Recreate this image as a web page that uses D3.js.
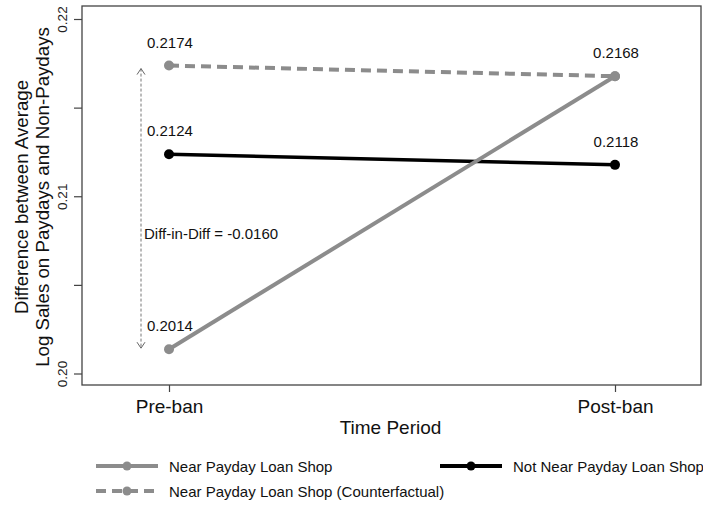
<!DOCTYPE html>
<html><head><meta charset="utf-8">
<script src="https://cdn.jsdelivr.net/npm/d3@7"></script>
<style>body{margin:0;background:#fff}svg{display:block;font-family:"Liberation Sans",Arial,sans-serif}</style>
</head><body><svg id="c" width="703" height="506"></svg>
<script>
const periods = ["Pre-ban", "Post-ban"];
const nearValues = [0.2014, 0.2168];
const notNearValues = [0.2124, 0.2118];
const counterfactualValues = [0.2174, 0.2168];
const yTicks = [0.20, 0.205, 0.21, 0.215, 0.22];
const yTickLabels = ["0.20", "", "0.21", "", "0.22"];
const diffLabel = "Diff-in-Diff = -0.0160";
const legendLabels = ["Near Payday Loan Shop", "Not Near Payday Loan Shop", "Near Payday Loan Shop (Counterfactual)"];

const svg = d3.select("#c");
const L = 82, R = 701, T = 6, B = 385;
const x = d3.scalePoint().domain(periods).range([169, 615]);
const y = d3.scaleLinear().domain([0.20, 0.22]).range([374, 19.5]);
const gray = "#8c8c8c";

// frame
svg.append("rect").attr("x", L).attr("y", T).attr("width", R - L).attr("height", B - T)
  .attr("fill", "none").attr("stroke", "#444").attr("stroke-width", 1.3);

// y axis
const ya = svg.append("g").attr("transform", `translate(${L},0)`)
  .call(d3.axisLeft(y).tickValues(yTicks).tickSize(8).tickFormat((d, i) => yTickLabels[i]));
ya.select(".domain").remove();
ya.selectAll(".tick").attr("transform", "translate(0,0)");
ya.selectAll(".tick line").attr("stroke", "#444").attr("stroke-width", 1.2)
  .attr("y1", d => y(d)).attr("y2", d => y(d));
ya.selectAll("text").attr("font-size", 13.5).attr("fill", "#222")
  .attr("transform", d => `translate(-15,${y(d)}) rotate(-90)`)
  .attr("x", 0).attr("y", 0).attr("dy", "0").attr("text-anchor", "middle");

// x axis
const xa = svg.append("g").attr("transform", `translate(0,${B})`)
  .call(d3.axisBottom(x).tickSize(7));
xa.select(".domain").remove();
xa.selectAll("line").attr("stroke", "#444").attr("stroke-width", 1.2);
xa.selectAll("text").attr("font-size", 19).attr("fill", "#111")
  .attr("font-family", "Liberation Sans, Arial, sans-serif").attr("dy", 0).attr("y", 28);

// titles
svg.append("text").attr("x", (L + R) / 2 - 1).attr("y", 434).attr("text-anchor", "middle")
  .attr("font-size", 19).attr("fill", "#111").text("Time Period");
const yt = svg.append("text").attr("transform", "translate(0,197) rotate(-90)")
  .attr("text-anchor", "middle").attr("font-size", 18.7).attr("fill", "#111");
yt.append("tspan").attr("x", 0).attr("y", 28).text("Difference between Average");
yt.append("tspan").attr("x", 0).attr("y", 49).text("Log Sales on Paydays and Non-Paydays");

// diff-in-diff arrow
const ax = 141;
const ay1 = y(counterfactualValues[0]) + 3, ay2 = y(nearValues[0]) - 1;
svg.append("line").attr("x1", ax).attr("x2", ax).attr("y1", ay1).attr("y2", ay2)
  .attr("stroke", "#777").attr("stroke-width", 1).attr("stroke-dasharray", "3,2");
svg.append("path").attr("d", `M${ax - 4},${ay1 + 6}L${ax},${ay1}L${ax + 4},${ay1 + 6}`)
  .attr("fill", "none").attr("stroke", "#666").attr("stroke-width", 1);
svg.append("path").attr("d", `M${ax - 4},${ay2 - 6}L${ax},${ay2}L${ax + 4},${ay2 - 6}`)
  .attr("fill", "none").attr("stroke", "#666").attr("stroke-width", 1);
svg.append("text").attr("x", ax + 3).attr("y", (ay1 + ay2) / 2 + 31).attr("font-size", 15)
  .attr("fill", "#111").text(diffLabel);

// series
const series = [
  {vals: counterfactualValues, color: gray, w: 4, dash: "10,6"},
  {vals: notNearValues, color: "#000", w: 3.5, dash: null},
  {vals: nearValues, color: gray, w: 4, dash: null}
];
const line = d3.line().x((d, i) => x(periods[i])).y(d => y(d));
series.forEach(s => {
  svg.append("path").datum(s.vals).attr("d", line).attr("fill", "none")
    .attr("stroke", s.color).attr("stroke-width", s.w).attr("stroke-dasharray", s.dash);
  svg.selectAll(null).data(s.vals).enter().append("circle")
    .attr("cx", (d, i) => x(periods[i])).attr("cy", d => y(d)).attr("r", 5).attr("fill", s.color);
});

// value labels
const labels = [
  {v: counterfactualValues[0], i: 0}, {v: notNearValues[0], i: 0}, {v: nearValues[0], i: 0},
  {v: counterfactualValues[1], i: 1}, {v: notNearValues[1], i: 1}
];
svg.selectAll(null).data(labels).enter().append("text")
  .attr("x", d => d.i === 0 ? 147 : x(periods[1]) + 1)
  .attr("y", d => y(d.v) - 18)
  .attr("text-anchor", d => d.i === 0 ? "start" : "middle")
  .attr("font-size", 15).attr("fill", "#111").text(d => d.v.toFixed(4));

// legend
const leg = [
  {lx: 100, ly: 466, color: gray, w: 4, dash: null, label: legendLabels[0]},
  {lx: 444, ly: 466, color: "#000", w: 4, dash: null, label: legendLabels[1]},
  {lx: 100, ly: 491, color: gray, w: 4, dash: "10,6", label: legendLabels[2]}
];
leg.forEach(l => {
  svg.append("line").attr("x1", l.lx - 4).attr("x2", l.lx + 58).attr("y1", l.ly).attr("y2", l.ly)
    .attr("stroke", l.color).attr("stroke-width", l.w).attr("stroke-dasharray", l.dash);
  svg.append("circle").attr("cx", l.lx + 27).attr("cy", l.ly).attr("r", 4.5).attr("fill", l.color);
  svg.append("text").attr("x", l.lx + 69).attr("y", l.ly + 5.5).attr("font-size", 15)
    .attr("fill", "#111").text(l.label);
});
</script></body></html>
